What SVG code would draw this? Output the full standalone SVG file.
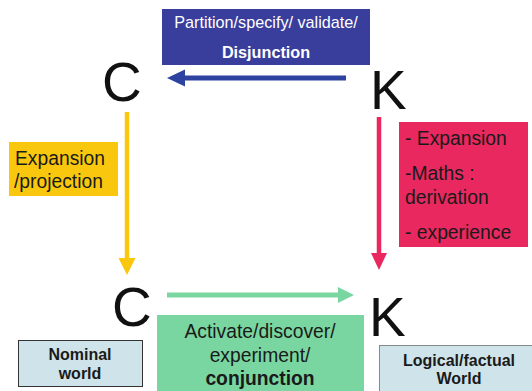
<svg xmlns="http://www.w3.org/2000/svg" width="532" height="391" viewBox="0 0 532 391">
<style>
text{font-family:"Liberation Sans",Arial,sans-serif}
.big{font-size:55px;fill:#111}
.lbl{font-size:19.3px;fill:#1a1a1a}
.world{font-size:16px;font-weight:bold;fill:#1a1a1a;text-anchor:middle}
</style>
<rect width="532" height="391" fill="#fff"/>
<g id="connectors">
<line x1="346" y1="78" x2="185" y2="78" stroke="#2e43a0" stroke-width="5"/>
<polygon points="167,78 185,69.5 185,86.5" fill="#2e43a0"/>
<line x1="127" y1="112" x2="127" y2="259" stroke="#f9c80e" stroke-width="4.5"/>
<polygon points="127,275 118.5,258 135.5,258" fill="#f9c80e"/>
<line x1="379" y1="117" x2="379" y2="254" stroke="#e8285f" stroke-width="4.5"/>
<polygon points="379,270 371,253 387,253" fill="#e8285f"/>
<line x1="167" y1="295" x2="339" y2="295" stroke="#79d6a0" stroke-width="5"/>
<polygon points="354,295 338,287 338,303" fill="#79d6a0"/>
</g>
<g id="disjunction-label">
<rect x="162" y="9" width="208" height="56" fill="#393d9b"/>
<text x="266" y="28" font-size="16.2" fill="#fff" text-anchor="middle">Partition/specify/ validate/</text>
<text x="266" y="58" font-size="16.2" font-weight="bold" fill="#fff" text-anchor="middle">Disjunction</text>
</g>
<g id="C-top"><text class="big" x="102" y="101">C</text></g>
<g id="K-top"><text class="big" x="370" y="109">K</text></g>
<g id="expansion-label">
<rect x="9" y="142" width="109" height="54" fill="#f9c80e"/>
<text class="lbl" x="15" y="165">Expansion</text>
<text class="lbl" x="14" y="188">/projection</text>
</g>
<g id="maths-label">
<rect x="399" y="122" width="129" height="125" fill="#e8285f"/>
<text class="lbl" x="405" y="145">- Expansion</text>
<text class="lbl" x="405" y="180">-Maths :</text>
<text class="lbl" x="405" y="204">derivation</text>
<text class="lbl" x="405" y="239">- experience</text>
</g>
<g id="C-bottom"><text class="big" x="112" y="326">C</text></g>
<g id="K-bottom"><text class="big" x="369" y="336">K</text></g>
<g id="conjunction-label">
<rect x="157" y="315" width="207" height="76" fill="#79d6a0"/>
<text class="lbl" x="260" y="338" text-anchor="middle">Activate/discover/</text>
<text class="lbl" x="260" y="362" text-anchor="middle">experiment/</text>
<text class="lbl" x="260" y="385" text-anchor="middle" font-weight="bold">conjunction</text>
</g>
<g id="nominal-world">
<rect x="18.5" y="340.5" width="124" height="46" fill="#cfe3ea" stroke="#333" stroke-width="1"/>
<text class="world" x="80" y="360">Nominal</text>
<text class="world" x="80" y="379">world</text>
</g>
<g id="logical-world">
<rect x="379.5" y="345.5" width="160" height="50" fill="#cfe3ea" stroke="#888" stroke-width="1"/>
<text class="world" x="459" y="366">Logical/factual</text>
<text class="world" x="459" y="384">World</text>
</g>
</svg>
